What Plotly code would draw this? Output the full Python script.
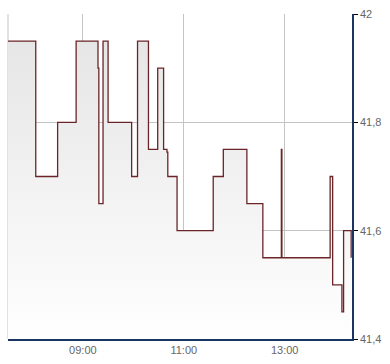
import plotly.graph_objects as go

DAY = "2024-01-02 "
times = ["07:31", "08:04", "08:30", "08:52", "09:18", "09:19", "09:24", "09:30",
         "09:58", "10:05", "10:18", "10:29", "10:36", "10:40", "10:41", "10:52",
         "11:35", "11:47", "12:15", "12:34", "12:56", "12:56:40", "13:54", "13:57",
         "14:08", "14:10", "14:19"]
prices = [41.95, 41.70, 41.80, 41.95, 41.90, 41.65, 41.95, 41.80,
          41.70, 41.95, 41.75, 41.90, 41.75, 41.745, 41.70, 41.60,
          41.70, 41.75, 41.65, 41.55, 41.75, 41.55, 41.70, 41.50,
          41.45, 41.60, 41.55]
y_ticks = [41.4, 41.6, 41.8, 42.0]
x_ticks = ["09:00", "11:00", "13:00"]

x = [DAY + t for t in times]

fig = go.Figure()
fig.add_trace(go.Scatter(
    x=x, y=prices, mode="lines", line=dict(shape="hv", color="#6b2528", width=1.3),
    fill="tozeroy",
    fillgradient=dict(type="vertical", start=41.4, stop=42.0,
                      colorscale=[[0, "#ffffff"], [1, "#e4e4e4"]]),
    hoverinfo="skip", showlegend=False,
))

fig.update_layout(
    width=390, height=364,
    margin=dict(l=8, r=38, t=11, b=24),
    paper_bgcolor="white", plot_bgcolor="white",
    separators=", ",
    font=dict(family="Liberation Sans, Arial, sans-serif", size=11, color="#666666"),
    xaxis=dict(
        type="date",
        range=[DAY + "07:31", DAY + "14:20"],
        tickvals=[DAY + t for t in x_ticks], ticktext=x_ticks,
        showgrid=True, gridcolor="#c4c4c4", gridwidth=1,
        showline=True, linecolor="#1b3563", linewidth=1.5,
        ticks="", zeroline=False, fixedrange=True,
    ),
    yaxis=dict(
        side="right", range=[41.4, 42.0],
        tickvals=y_ticks, ticktext=["41,4", "41,6", "41,8", "42"],
        showgrid=True, gridcolor="#c4c4c4", gridwidth=1,
        showline=True, linecolor="#1b3563", linewidth=1.5,
        ticks="outside", ticklen=4, tickcolor="#000000", tickwidth=1,
        zeroline=False, fixedrange=True,
    ),
    shapes=[dict(type="line", xref="paper", yref="paper", x0=0, x1=0, y0=0, y1=1,
                 line=dict(color="#c4c4c4", width=1), layer="below")],
)

fig.write_html("out.html")
